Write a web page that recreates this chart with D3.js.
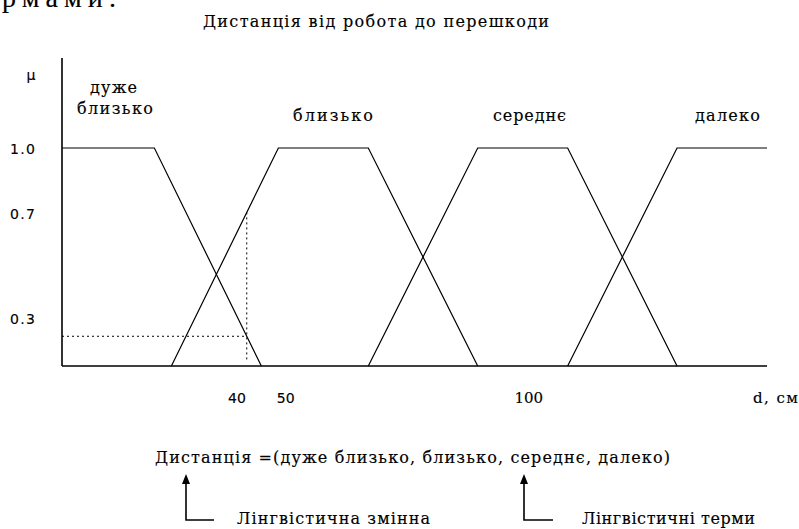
<!DOCTYPE html>
<html>
<head>
<meta charset="utf-8">
<script src="https://cdn.jsdelivr.net/npm/d3@7"></script>
<style>
html,body{margin:0;padding:0;background:#fff;}
svg{display:block;}
</style>
</head>
<body>
<svg id="chart" width="799" height="529"></svg>
<script>
// ---- data ----
const terms = ["дуже близько", "близько", "середнє", "далеко"];
const termLabelLines = [["дуже", "близько"], ["близько"], ["середнє"], ["далеко"]];
// trapezoid corners (cm): foot-left, top-left, top-right, foot-right
const termA = [4, 26.5, 67, 108];
const termB = [4, 48.5, 89.5, 130.5];
const termC = [23, 67, 108, 149];
const termD = [45, 89.5, 130.5, 149];
const xDomain = [4, 149];
const xTickValues = [40, 50, 100];
const xTickLabels = ["40", "50", "100"];
const yTickValues = [1.0, 0.7, 0.22];
const yTickLabels = ["1.0", "0.7", "0.3"];
const inputValue = 42;
const title = "Дистанція від робота до перешкоди";
const formula = "Дистанція =(дуже близько, близько, середнє, далеко)";
const noteVar = "Лінгвістична змінна";
const noteTerms = "Лінгвістичні терми";

// ---- layout ----
const SERIF = "DejaVu Serif";
const SANS = "DejaVu Sans";
const svg = d3.select("#chart");
const x = d3.scaleLinear().domain(xDomain).range([62, 767]);
const y = d3.scaleLinear().domain([0, 1]).range([366, 148]);

function txt(px, py, s, size, family, len) {
  const t = svg.append("text").attr("x", px).attr("y", py)
    .attr("font-family", family).attr("font-size", size).attr("fill", "#000")
    .attr("stroke", "#000").attr("stroke-width", 0.15).text(s);
  if (len) t.attr("textLength", len).attr("lengthAdjust", "spacing");
  return t;
}

// clipped text at the very top (cut off in the reference as well)
txt(2, 7, "рмами.", 28, "Liberation Serif", 114);

// title
txt(203, 27, title, 16, SERIF, 346);

// axes
svg.append("line").attr("x1", x(xDomain[0])).attr("x2", x(xDomain[0]))
  .attr("y1", 58).attr("y2", y(0)).attr("stroke", "#000").attr("stroke-width", 1.6);
svg.append("line").attr("x1", x(xDomain[0])).attr("x2", x(xDomain[1]))
  .attr("y1", y(0)).attr("y2", y(0)).attr("stroke", "#000").attr("stroke-width", 1.6);

txt(31, 80, "μ", 14, SANS).attr("text-anchor", "middle");

// y tick labels
yTickValues.forEach((v, i) => txt(10, y(v) + 6, yTickLabels[i], 14, SANS, 25));

// x tick labels
xTickValues.forEach((v, i) => {
  txt(x(v), 403, xTickLabels[i], v < 100 ? 14 : 15, v < 100 ? SANS : SERIF)
    .attr("text-anchor", "middle");
});
txt(753, 403, "d, см", 15, SERIF, 45);

// trapezoids
const line = d3.line().x(d => x(d[0])).y(d => y(d[1]));
terms.forEach((t, i) => {
  const pts = [];
  if (termA[i] !== termB[i]) pts.push([termA[i], 0]);
  pts.push([termB[i], 1]);
  pts.push([termC[i], 1]);
  if (termC[i] !== termD[i]) pts.push([termD[i], 0]);
  svg.append("path").attr("d", line(pts)).attr("fill", "none")
    .attr("stroke", "#000").attr("stroke-width", 1.2);
});

// membership function
function mu(i, v) {
  if (v <= termA[i] || v >= termD[i]) return (v >= termB[i] && v <= termC[i]) ? 1 : 0;
  if (v < termB[i]) return (v - termA[i]) / (termB[i] - termA[i]);
  if (v <= termC[i]) return 1;
  return (termD[i] - v) / (termD[i] - termC[i]);
}
const mu0 = mu(0, inputValue), mu1 = mu(1, inputValue);
svg.append("line").attr("x1", x(xDomain[0])).attr("x2", x(inputValue))
  .attr("y1", y(mu0)).attr("y2", y(mu0))
  .attr("stroke", "#000").attr("stroke-width", 1).attr("stroke-dasharray", "2,3");
svg.append("line").attr("x1", x(inputValue)).attr("x2", x(inputValue))
  .attr("y1", y(mu1)).attr("y2", y(0) - 5)
  .attr("stroke", "#000").attr("stroke-width", 1).attr("stroke-dasharray", "2,3");

// term labels
const labelBox = [[90, 77], [293], [493], [695]];
const labelLen = [[47, 76], [80], [73], [65]];
const labelY = [[93, 114], [121], [121], [121]];
termLabelLines.forEach((lines, i) => {
  lines.forEach((s, j) => txt(labelBox[i][j], labelY[i][j], s, 16, SERIF, labelLen[i][j]));
});

// formula and notes
txt(155, 463, formula, 16, SERIF, 515);
txt(237, 524, noteVar, 16, SERIF, 193);
txt(582, 524, noteTerms, 16, SERIF, 173);

function arrow(cx, hx) {
  svg.append("path").attr("d", `M${cx},483 L${cx},520 L${hx},520`)
    .attr("fill", "none").attr("stroke", "#000").attr("stroke-width", 1.6);
  svg.append("path").attr("d", `M${cx},474 L${cx - 4},484 L${cx + 4},484 Z`).attr("fill", "#000");
}
arrow(186, 214);
arrow(524, 553);
</script>
</body>
</html>
